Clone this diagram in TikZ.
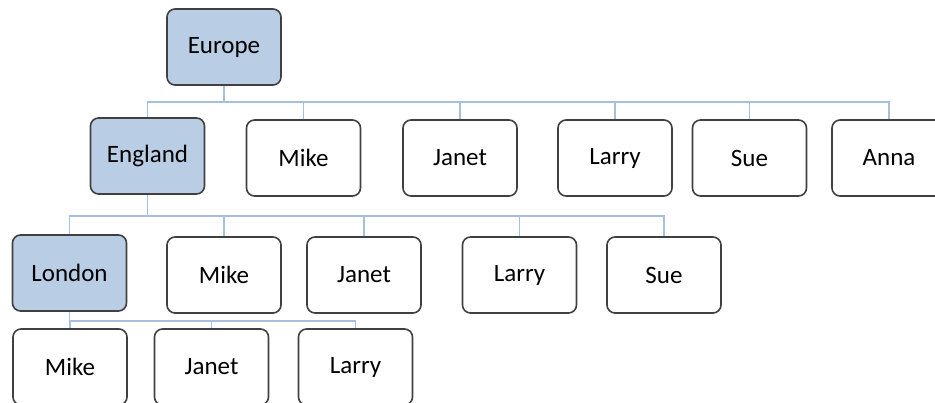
\documentclass[tikz,border=0pt]{standalone}
\usepackage{fontspec}
\setmainfont{Carlito}

\definecolor{boxline}{HTML}{404040}
\definecolor{boxfill}{HTML}{B9CDE5}
\definecolor{linkblue}{HTML}{A7BFDE}

\begin{document}
\begin{tikzpicture}[x=1pt, y=-1pt]
    \tikzset{
        org box/.style={draw=boxline, line width=1.6pt, rounded corners=8pt,
            fill=white, minimum width=114pt, minimum height=76pt,
            font=\fontsize{25}{30}\selectfont, inner sep=0pt},
        org box hi/.style={org box, fill=boxfill},
        org link/.style={draw=linkblue, line width=1.6pt},
    }
    \useasboundingbox (0,0) rectangle (935,402);
    \clip (0,0) rectangle (935,402);

    % the three highlighted parents
    \node[org box hi] (eu) at (224,47) {Europe};
    \node[org box hi] (en) at (147.5,156) {England};
    \node[org box hi] (lo) at (69.5,273) {London};

    % leaves of each level
    \foreach \nm/\txt/\x in {amike/Mike/303.5, ajanet/Janet/460,
        alarry/Larry/615, asue/Sue/749.5, aanna/Anna/889}
        \node[org box] (\nm) at (\x,158) {\txt};
    \foreach \nm/\txt/\x in {bmike/Mike/224, bjanet/Janet/364,
        blarry/Larry/519.5, bsue/Sue/664}
        \node[org box] (\nm) at (\x,275) {\txt};
    \foreach \nm/\txt/\x in {cmike/Mike/70, cjanet/Janet/211.5,
        clarry/Larry/355.5}
        \node[org box] (\nm) at (\x,367) {\txt};

    % bus lines, one per parent
    \coordinate (bus1) at (224,102);
    \coordinate (bus2) at (147.5,216);
    \coordinate (bus3) at (69.5,321);
    \foreach \c in {en,amike,ajanet,alarry,asue,aanna}
        \draw[org link] (eu.south) -- (bus1) -| (\c.north);
    \foreach \c in {lo,bmike,bjanet,blarry,bsue}
        \draw[org link] (en.south) -- (bus2) -| (\c.north);
    \foreach \c in {cmike,cjanet,clarry}
        \draw[org link] (lo.south) -- (bus3) -| (\c.north);
\end{tikzpicture}
\end{document}
